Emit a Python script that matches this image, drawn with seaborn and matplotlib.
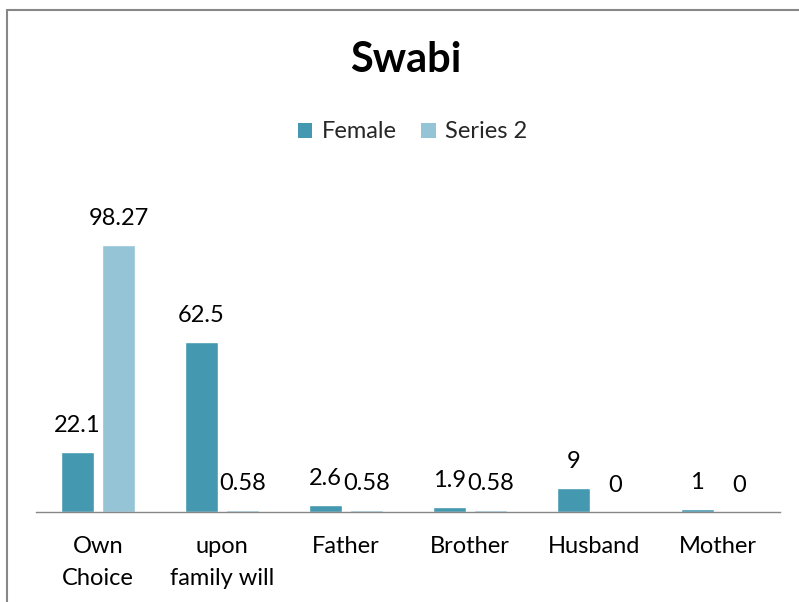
import matplotlib
matplotlib.use("Agg")
import matplotlib.pyplot as plt
import seaborn as sns
import pandas as pd
from matplotlib.patches import Rectangle
from matplotlib.lines import Line2D

categories = ["Own\nChoice", "upon\nfamily will", "Father", "Brother", "Husband", "Mother"]
female = [22.1, 62.5, 2.6, 1.9, 9, 1]
series2 = [98.27, 0.58, 0.58, 0.58, 0, 0]
series_names = ["Female", "Series 2"]
title = "Swabi"

colors = ["#4499B0", "#94C4D6"]

df = pd.DataFrame({
    "category": categories * 2,
    "value": female + series2,
    "series": [series_names[0]] * len(categories) + [series_names[1]] * len(categories),
})

sns.set_theme(style="white")
plt.rcParams["font.family"] = ["Lato", "DejaVu Sans"]

W, H = 799, 602
fig = plt.figure(figsize=(W / 100, H / 100), dpi=100)

# axes placement in pixels
left, right, base, top = 36, 780, 512, 512 - 271.7
ax = fig.add_axes([left / W, (H - base) / H, (right - left) / W, (base - top) / H])

sns.barplot(data=df, x="category", y="value", hue="series", palette=colors,
            width=0.67, gap=0.2, ax=ax, legend=False, saturation=1)

ax.set_ylim(0, 100)
ax.set_xlim(-0.5, len(categories) - 0.5)
ax.set_xlabel("")
ax.set_ylabel("")
ax.set_yticks([])
for s in ["top", "left", "right"]:
    ax.spines[s].set_visible(False)
ax.spines["bottom"].set_color("#878787")
ax.spines["bottom"].set_linewidth(1.0)
ax.tick_params(axis="x", length=0, pad=17)
ax.set_xticks(range(len(categories)))
ax.set_xticklabels(categories, fontsize=17, color="#000000", linespacing=1.68, va="top")

for cont in ax.containers:
    ax.bar_label(cont, fmt="{:g}", padding=11.5, fontsize=17, color="#000000")

# title
fig.text(406 / W, 1 - 60 / H, title, ha="center", va="center",
         fontsize=30, fontweight="bold", color="#000000")

# legend
handles = [Rectangle((0, 0), 1, 1, facecolor=c, edgecolor="none") for c in colors]
fig.legend(handles, series_names, loc="center", bbox_to_anchor=(412.5 / W, 1 - 132 / H),
           ncol=2, frameon=False, fontsize=17, handlelength=0.6, handleheight=0.6,
           handletextpad=0.38, columnspacing=1.06)

# outer border (left and top only visible)
fig.add_artist(Line2D([6.5 / W, 6.5 / W], [0, 1 - 9.5 / H], transform=fig.transFigure,
                      color="#878787", lw=1.5))
fig.add_artist(Line2D([6.5 / W, 1], [1 - 9.5 / H, 1 - 9.5 / H], transform=fig.transFigure,
                      color="#878787", lw=1.5))

fig.savefig("out.png", dpi=100)
